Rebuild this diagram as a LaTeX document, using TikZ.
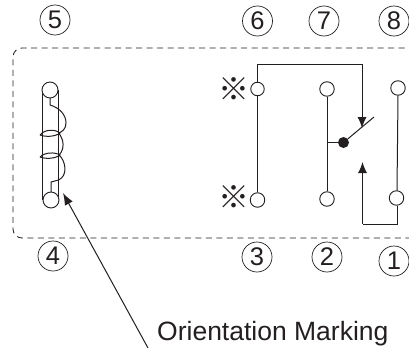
\documentclass[tikz,border=0pt]{standalone}
\usepackage{fontspec}
\setmainfont{Liberation Sans}
\newfontfamily\cjkfont{Noto Sans CJK SC}
\usetikzlibrary{arrows.meta}
\definecolor{ink}{HTML}{231F20}
\tikzset{
  wire/.style={draw=ink,line width=1pt},
  term/.style={circle,draw=ink,line width=0.9pt,fill=white,minimum size=14.5pt,inner sep=0pt},
  num/.style={circle,draw=ink,line width=0.7pt,minimum size=30pt,inner sep=0pt,font=\fontsize{25.5}{25.5}\selectfont,text=ink},
  arr/.style={wire,-{Latex[length=11pt,width=9pt]}},
  border/.style={draw=ink,line width=0.8pt,dash pattern=on 6pt off 4.5pt},
  refmark/.style={font=\cjkfont\fontsize{31}{31}\selectfont,text=ink,inner sep=0pt},
}
\begin{document}
\begin{tikzpicture}[x=1pt,y=-1pt]
\useasboundingbox (0,0) rectangle (409,348);
\clip (0,0) rectangle (409,348);
% circled numbers
\node[num] (n5) at (55,20) {5};
\node[num] (n6) at (257.5,21) {6};
\node[num] (n7) at (324,21) {7};
\node[num] (n8) at (394,21) {8};
\node[num] (n4) at (53,256) {4};
\node[num] (n3) at (257,257) {3};
\node[num] (n2) at (327,257) {2};
\node[num] (n1) at (394,261) {1};
% border
\draw[border,rounded corners=9pt] (415,48) -- (13,48) -- (13,238) -- (415,238);
% coil
\coordinate (ct) at (50,90);
\coordinate (cb) at (51,200);
\draw[wire] (42,90) -- (42,200);
\draw[wire] (58.5,90) -- (58.5,200);
\draw[wire] (50,97) -- (50,105) .. controls (60,108) and (66,115) .. (66,123) .. controls (66,129) and (62,132) .. (58.5,133);
\draw[wire] (58.5,133) .. controls (64,139) and (65,149) .. (59,155);
\draw[wire] (59,155) .. controls (66,161) and (68,176) .. (58.5,180) -- (51,182) -- (51,192);
\draw[wire] (40,135) .. controls (45,129) and (55,129) .. (60,133) .. controls (55,137) and (45,137) .. (40,135);
\draw[wire] (40,157) .. controls (45,152) and (55,152) .. (60,155) .. controls (55,159) and (45,159) .. (40,157);
\node[term,minimum size=16pt] (c1) at (ct) {};
\node[term,minimum size=16pt] (c2) at (cb) {};
% terminals
\node[term,minimum size=13.5pt] (t6) at (257.5,89) {};
\node[term] (t7) at (327,89) {};
\node[term] (t8) at (398,88) {};
\node[term] (t3) at (257.5,200) {};
\node[term] (t2) at (327,199) {};
\node[term] (t1) at (396.5,198) {};
\node[refmark] (m1) at (234,89) {※};
\node[refmark] (m2) at (234,197) {※};
% contacts
\node[circle,fill=ink,minimum size=11pt,inner sep=0pt] (dot) at (343.5,142.5) {};
\coordinate (blade) at (374,117);
\coordinate (j6) at (362,64);
\coordinate (tip6) at (362,128);
\coordinate (j2) at (327,142.5);
\coordinate (j1) at (397,224);
\coordinate (j3) at (362.5,224);
\coordinate (tip1) at (362.5,162);
\draw[wire] (t6.north) -- (257.5,64) -- (j6);
\draw[arr] (j6) -- (tip6);
\draw[wire] (t6.south) -- (t3.north);
\draw[wire] (t7.south) -- (t2.north);
\draw[wire] (j2) -- (dot);
\draw[wire] (dot) -- (blade);
\draw[wire] (t8.south) -- (397,190.5);
\draw[wire] (397,205.5) -- (j1) -- (j3);
\draw[arr] (j3) -- (tip1);
% label
\node[anchor=base west,inner sep=0pt,font=\fontsize{26.5}{26.5}\selectfont,text=ink] (lab) at (157,340) {Orientation Marking};
\coordinate (tail) at (148,348);
\draw[wire,-{Latex[length=12pt,width=9pt]}] (tail) -- (63,193);
\end{tikzpicture}
\end{document}
